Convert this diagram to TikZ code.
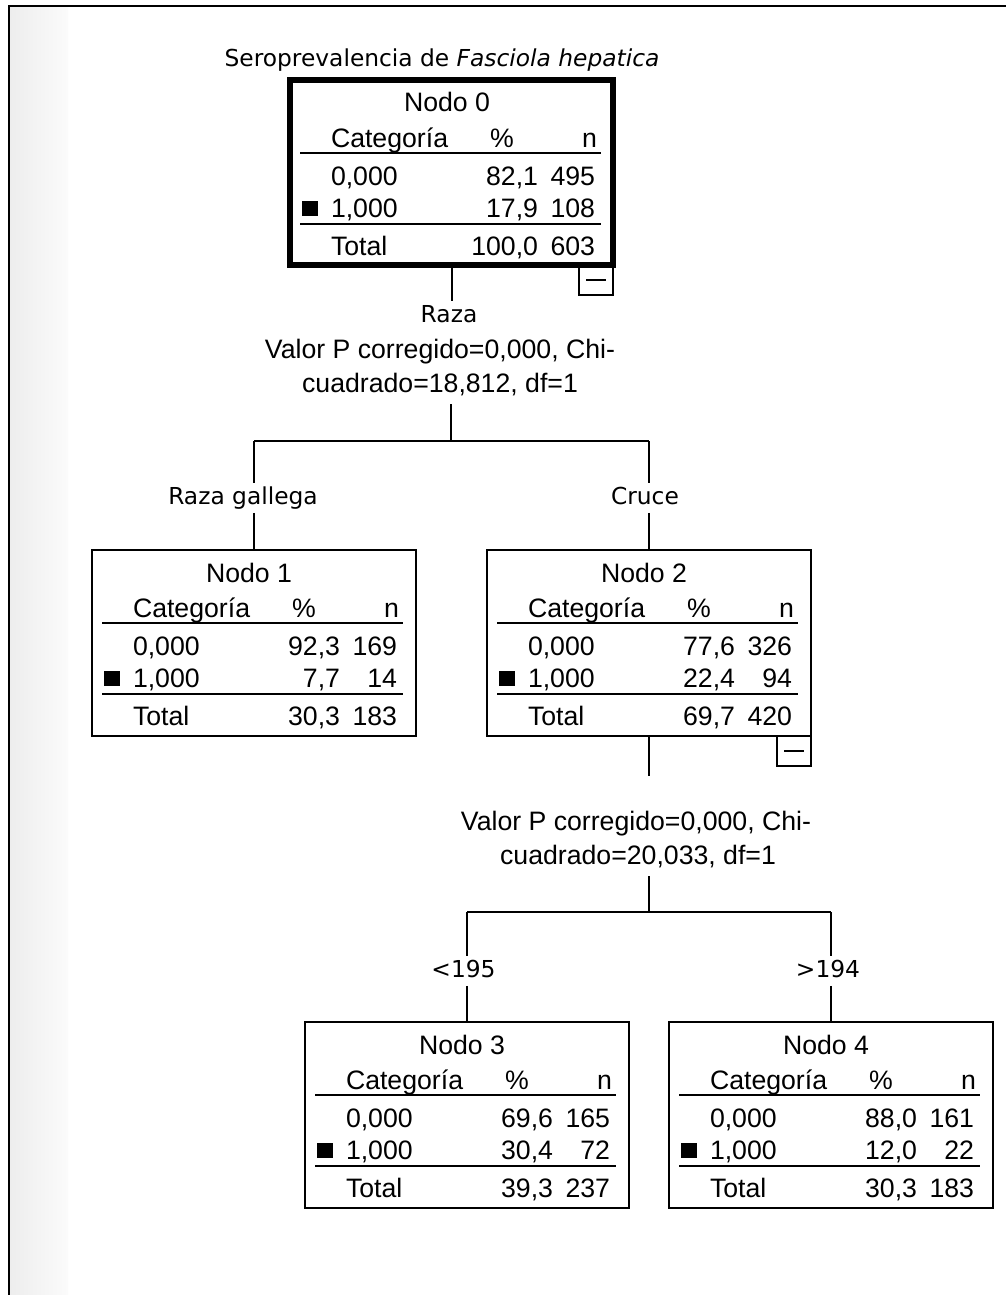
\documentclass[tikz,border=0pt]{standalone}
\usepackage{fontspec}
\setmainfont{Liberation Sans}
\newfontfamily\dvs{DejaVu Sans}
\tikzset{
 tbl/.style={font=\fontsize{20pt}{24pt}\selectfont, inner sep=0pt, outer sep=0pt},
 lbl/.style={font=\dvs\fontsize{17.5pt}{21pt}\selectfont, inner sep=2.5pt, text height=13pt, text depth=4pt, anchor=base},
 spl/.style={font=\fontsize{20pt}{24pt}\selectfont, inner xsep=1pt, inner ysep=6pt, text height=14pt, text depth=3pt, anchor=base},
 box/.style={draw, line width=1.5pt, minimum width=243pt, minimum height=139.5pt, outer sep=0pt, inner sep=0pt, anchor=north west},
 rootbox/.style={box, line width=4pt, minimum width=242.25pt, minimum height=138.75pt},
 minusbox/.style={draw, line width=1.5pt, minimum width=25.5pt, minimum height=22.5pt, outer sep=0pt, inner sep=0pt, anchor=north east},
 minusbar/.style={line width=1.5pt},
 conn/.style={line width=1.5pt},
 rule/.style={line width=1.5pt},
 sq/.style={fill=black, minimum width=12.5pt, minimum height=11.5pt, inner sep=0pt, outer sep=0pt},
}
\newcommand\cart[8]{%
 \begin{scope}[shift={(#1.north west)}]
  \node[tbl, anchor=base] (#1-ti) at (157,32) {#2};
  \node[tbl, anchor=base west] (#1-hc) at (41,67.5) {Categoría};
  \node[tbl, anchor=base] (#1-hp) at (212,67.5) {\%};
  \node[tbl, anchor=base east] (#1-hn) at (307,67.5) {n};
  \draw[rule] (10,73) -- (311,73);
  \node[tbl, anchor=base west] (#1-c0) at (41,105) {0,000};
  \node[tbl, anchor=base east] (#1-p0) at (248,105) {#3};
  \node[tbl, anchor=base east] (#1-n0) at (305,105) {#4};
  \node[sq] (#1-sq) at (20,128.5) {};
  \node[tbl, anchor=base west] (#1-c1) at (41,137.5) {1,000};
  \node[tbl, anchor=base east] (#1-p1) at (248,137.5) {#5};
  \node[tbl, anchor=base east] (#1-n1) at (305,137.5) {#6};
  \draw[rule] (10,143.5) -- (311,143.5);
  \node[tbl, anchor=base west] (#1-tt) at (41,175) {Total};
  \node[tbl, anchor=base east] (#1-pt) at (248,175) {#7};
  \node[tbl, anchor=base east] (#1-nt) at (305,175) {#8};
 \end{scope}}
\begin{document}
\begin{tikzpicture}[x=0.75pt,y=-0.75pt]
\useasboundingbox (0,0) rectangle (1006,1295);
\fill[white] (0,0) rectangle (1006,1295);
\shade[left color=black!7, right color=black!1.5] (10,7) rectangle (68,1295);
\draw[line width=1.5pt] (9,1300) -- (9,6) -- (1010,6);

\node[lbl] (title) at (442,66) {Seroprevalencia de \textit{Fasciola hepatica}};

% root node
\node[rootbox] (n0) at (290,80) {};
\cart{n0}{Nodo 0}{82,1}{495}{17,9}{108}{100,0}{603}
\node[minusbox] (n0m) at (n0.south east) {};
\draw[minusbar] ([xshift=-7.5pt]n0m.center) -- ([xshift=7.5pt]n0m.center);

\node[lbl] (raza) at (449,322) {Raza};
\draw[conn] (n0.south) -- (n0.south |- raza.north);
\node[spl] (s0a) at (440,358) {Valor P corregido=0,000, Chi-};
\node[spl] (s0b) at (440,392) {cuadrado=18,812, df=1};
\coordinate (j0) at (451,441);
\draw[conn] (j0 |- s0b.south) -- (j0);

% first level
\node[box] (n1) at (92,550) {};
\cart{n1}{Nodo 1}{92,3}{169}{7,7}{14}{30,3}{183}
\node[box] (n2) at (487,550) {};
\cart{n2}{Nodo 2}{77,6}{326}{22,4}{94}{69,7}{420}
\node[minusbox] (n2m) at (n2.south east) {};
\draw[minusbar] ([xshift=-7.5pt]n2m.center) -- ([xshift=7.5pt]n2m.center);

\node[lbl] (rg) at (243,504) {Raza gallega};
\node[lbl] (cr) at (645,504) {Cruce};
\draw[conn] (j0 -| n1.north) -- (j0 -| n2.north);
\draw[conn] (j0 -| n1.north) -- (n1.north |- rg.north);
\draw[conn] (n1.north |- rg.south) -- (n1.north);
\draw[conn] (j0 -| n2.north) -- (n2.north |- cr.north);
\draw[conn] (n2.north |- cr.south) -- (n2.north);

% second split
\coordinate (c2) at (649,776);
\draw[conn] (n2.south) -- (c2);
\node[spl] (s1a) at (636,830) {Valor P corregido=0,000, Chi-};
\node[spl] (s1b) at (638,864) {cuadrado=20,033, df=1};
\coordinate (j1) at (649,912);
\draw[conn] (j1 |- s1b.south) -- (j1);

\node[box] (n3) at (305,1022) {};
\cart{n3}{Nodo 3}{69,6}{165}{30,4}{72}{39,3}{237}
\node[box] (n4) at (669,1022) {};
\cart{n4}{Nodo 4}{88,0}{161}{12,0}{22}{30,3}{183}

\node[lbl] (lt) at (463.5,977) {<195};
\node[lbl] (gt) at (828,977) {>194};
\draw[conn] (j1 -| n3.north) -- (j1 -| n4.north);
\draw[conn] (j1 -| n3.north) -- (n3.north |- lt.north);
\draw[conn] (n3.north |- lt.south) -- (n3.north);
\draw[conn] (j1 -| n4.north) -- (n4.north |- gt.north);
\draw[conn] (n4.north |- gt.south) -- (n4.north);
\end{tikzpicture}
\end{document}
